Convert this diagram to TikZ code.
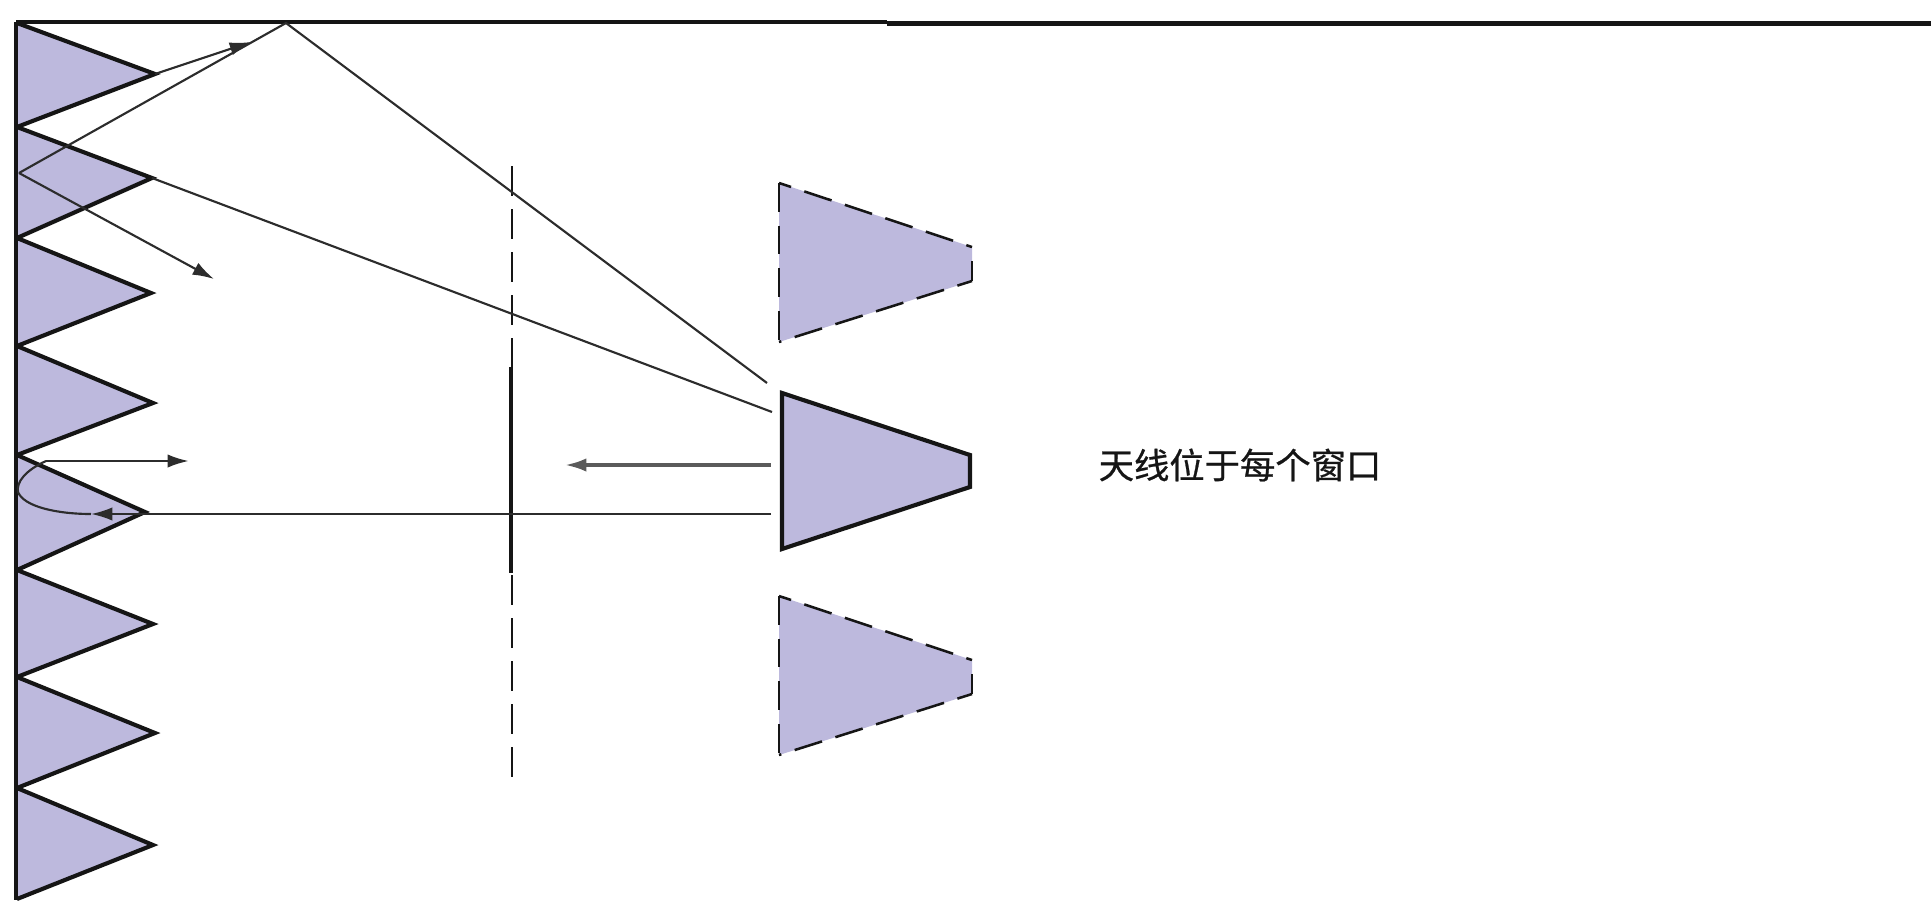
\documentclass[tikz,border=0pt]{standalone}
\usepackage{fontspec}
\newfontfamily\cjk[FakeBold=0.7]{Noto Sans CJK SC}
\usetikzlibrary{arrows.meta}
\definecolor{hornfill}{HTML}{BDB9DD}
\definecolor{inkc}{HTML}{151515}
\tikzset{
  px/.style={x=0.75pt,y=-0.75pt},
  wedge/.style={fill=hornfill,draw=none},
  heavy/.style={draw=inkc,line width=3.1pt,line join=miter},
  wall/.style={draw=inkc,line width=3.6pt},
  ray/.style={draw=inkc!90,line width=1.6pt},
  arrowray/.style={ray,-{Latex[length=16pt,width=10pt]}},
  screen/.style={draw=inkc,line width=1.8pt,dash pattern=on 22.5pt off 9.75pt},
  hornedge/.style={draw=inkc,line width=1.9pt,dash pattern=on 21.5pt off 10.5pt},
  label/.style={font=\cjk\fontsize{26.5}{30}\selectfont,text=inkc,inner sep=0pt}
}
\begin{document}
\begin{tikzpicture}[px]
\useasboundingbox (0,0) rectangle (1931,900);
% absorber wedges: base points on the wall and tips
\coordinate (b0) at (17,23);
\coordinate (b1) at (17,127);
\coordinate (b2) at (17,238);
\coordinate (b3) at (17,346);
\coordinate (b4) at (17,455);
\coordinate (b5) at (17,570);
\coordinate (b6) at (17,677);
\coordinate (b7) at (17,788);
\coordinate (b8) at (17,899);
\coordinate (t1) at (155,74);
\coordinate (t2) at (152,178);
\coordinate (t3) at (151,293);
\coordinate (t4) at (153,403);
\coordinate (t5) at (145,512);
\coordinate (t6) at (153,624);
\coordinate (t7) at (155,733);
\coordinate (t8) at (153,845);
\foreach \a/\t/\b in {b0/t1/b1,b1/t2/b2,b2/t3/b3,b3/t4/b4,b4/t5/b5,b5/t6/b6,b6/t7/b7,b7/t8/b8}{
  \path[wedge] (\a) -- (\t) -- (\b) -- cycle;
  \draw[heavy] (\a) -- (\t) -- (\b);
}
% walls
\coordinate (tl) at (16,22);
\coordinate (tm) at (887,22);
\coordinate (tm2) at (887,23.5);
\coordinate (tr) at (1931,23.5);
\coordinate (wb) at (16,900);
\draw[wall] (tl) -- (tm);
\draw[wall] (tm2) -- (tr);
\draw[wall] (tl) -- (wb);
% centre horn
\coordinate (hTL) at (782,393);
\coordinate (hTR) at (970,455);
\coordinate (hBR) at (970,487);
\coordinate (hBL) at (782,549);
\path[wedge] (hTL) -- (hTR) -- (hBR) -- (hBL) -- cycle;
\draw[heavy] (hTL) -- (hTR) -- (hBR) -- (hBL) -- cycle;
% dashed horns
\foreach \n/\o in {u/0,l/413}{
  \coordinate (\n TL) at (779,183+\o);
  \coordinate (\n TR) at (972,247+\o);
  \coordinate (\n BR) at (972,281+\o);
  \coordinate (\n BL) at (779,342+\o);
  \path[wedge] (\n TL) -- (\n TR) -- (\n BR) -- (\n BL) -- cycle;
  \draw[hornedge] (\n TL) -- (\n BL);
  \draw[hornedge,dash phase=12pt] (\n TL) -- (\n TR);
  \draw[hornedge,dash phase=10pt] (\n BR) -- (\n BL);
  \draw[hornedge,dash pattern=on 15pt off 30pt] (\n BR) -- (\n TR);
}
% screen
\coordinate (s1) at (512,166);
\coordinate (s2) at (512,367);
\coordinate (s3) at (511,367);
\coordinate (s4) at (511,573);
\coordinate (s5) at (512,575);
\coordinate (s6) at (512,778);
\draw[screen] (s1) -- (s2);
\draw[screen] (s5) -- (s6);
\draw[inkc,line width=3.4pt] (s3) -- (s4);
% rays
\coordinate (apex) at (286,23);
\coordinate (bounce) at (19,173);
\coordinate (h1end) at (767,383);
\coordinate (h2end) at (772,412);
\coordinate (a1) at (251,42);
\coordinate (a2) at (214,279);
\coordinate (r5) at (145,514);
\coordinate (h3end) at (771,514);
\coordinate (h4end) at (771,465);
\coordinate (a4) at (565,465);
\coordinate (a5s) at (46,461);
\coordinate (a5) at (189,461);
\coordinate (a6) at (91,514);
\draw[ray] (h1end) -- (apex) -- (bounce);
\draw[arrowray] (bounce) -- (a2);
\draw[arrowray] (t1) -- (a1);
\draw[ray] (t2) -- (h2end);
\draw[ray] (h3end) -- (r5);
\draw[arrowray] (r5) -- (a6);
\draw[ray] (a6) .. controls (58,514) and (24,507) .. (18,492)
      .. controls (16,482) and (26,470) .. (a5s);
\draw[arrowray,line width=2pt] (a5s) -- (a5);
\draw[arrowray,line width=2.5pt,draw=inkc!70,{Latex[length=16pt,width=10pt]}-] (a4) -- (h4end);
% label
\node[label] (lab) at (1240,465) {天线位于每个窗口};
\end{tikzpicture}
\end{document}
